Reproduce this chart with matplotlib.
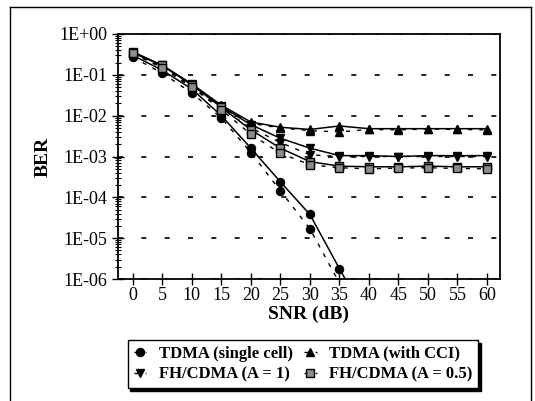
import numpy as np
import matplotlib.pyplot as plt
from matplotlib.lines import Line2D
from matplotlib.legend_handler import HandlerLine2D

plt.rcParams['font.family'] = ['Liberation Serif', 'DejaVu Serif']

snr = [0, 5, 10, 15, 20, 25, 30, 35, 40, 45, 50, 55, 60]
ytick_vals = [1e0, 1e-1, 1e-2, 1e-3, 1e-4, 1e-5, 1e-6]
ytick_labels = ['1E+00', '1E-01', '1E-02', '1E-03', '1E-04', '1E-05', '1E-06']

# TDMA (single cell) -- curve only down to ~40 dB, below the axis after that
snr_single = [0, 5, 10, 15, 20, 25, 30, 35, 40]
single_fit = [0.30, 0.13, 0.045, 0.010, 1.6e-3, 2.4e-4, 3.8e-5, 1.8e-6, 9e-8]
single_sim = [0.27, 0.11, 0.036, 0.0088, 1.25e-3, 1.45e-4, 1.7e-5, 8e-7, 4e-8]

cci_fit = [0.35, 0.17, 0.060, 0.018, 7.0e-3, 5.2e-3, 4.6e-3, 5.6e-3, 4.8e-3, 4.8e-3, 4.8e-3, 4.8e-3, 4.8e-3]
cci_sim = [0.33, 0.16, 0.055, 0.016, 6.5e-3, 5.0e-3, 4.3e-3, 4.0e-3, 4.6e-3, 4.5e-3, 4.7e-3, 4.6e-3, 4.5e-3]

fh1_fit = [0.35, 0.17, 0.058, 0.017, 6.0e-3, 2.8e-3, 1.6e-3, 1.05e-3, 1.05e-3, 1.0e-3, 1.05e-3, 1.05e-3, 1.05e-3]
fh1_sim = [0.33, 0.15, 0.050, 0.015, 5.0e-3, 2.2e-3, 1.1e-3, 1.0e-3, 1.0e-3, 1.0e-3, 1.0e-3, 1.0e-3, 1.0e-3]

fh05_fit = [0.37, 0.17, 0.057, 0.016, 4.5e-3, 1.6e-3, 7.5e-4, 5.8e-4, 5.6e-4, 5.6e-4, 5.8e-4, 5.6e-4, 5.6e-4]
fh05_sim = [0.34, 0.15, 0.050, 0.014, 3.5e-3, 1.2e-3, 6.3e-4, 5.3e-4, 5.0e-4, 5.2e-4, 5.3e-4, 5.1e-4, 5.0e-4]


class MarkerRight(HandlerLine2D):
    # short dash on the left, marker on the right, like "-▲"
    def get_xdata(self, legend, xdescent, ydescent, width, height, fontsize):
        return [-xdescent, -xdescent + 0.75 * width], [-xdescent + 0.85 * width]


fig = plt.figure(figsize=(5.35, 4.01), dpi=100)
ax = fig.add_axes([118 / 535, 1 - 279 / 401, 382 / 535, 245 / 401])

series = [
    (snr_single, single_fit, single_sim, 'o', 'black', 'TDMA (single cell)'),
    (snr, cci_fit, cci_sim, '^', 'black', 'TDMA (with CCI)'),
    (snr, fh1_fit, fh1_sim, 'v', 'black', 'FH/CDMA (A = 1)'),
    (snr, fh05_fit, fh05_sim, 's', '0.55', 'FH/CDMA (A = 0.5)'),
]

handles = []
for x, fit, sim, mk, fc, name in series:
    ax.plot(x, fit, color='black', lw=1.1, marker=mk, ms=5.8, mfc=fc, mec='black')
    h, = ax.plot(x, sim, color='black', lw=1.0, ls=(0, (3, 5)), marker=mk, ms=5.8,
                 mfc=fc, mec='black', label=name)
    handles.append(h)

ax.set_yscale('log')
ax.set_ylim(1e-6, 1e0)
ax.set_xlim(-2.5, 62.2)
ax.set_xticks(snr)
ax.set_yticks(ytick_vals)
ax.set_yticklabels(ytick_labels)
ax.tick_params(axis='both', which='major', direction='inout', length=8, width=1.0,
               labelsize=13, colors='black')
ax.tick_params(axis='y', which='minor', direction='inout', length=5, width=0.8)
ax.tick_params(axis='x', which='major', pad=2)
ax.yaxis.grid(True, which='major', color='black', lw=1.2, ls=(0, (3, 11)))
ax.set_axisbelow(True)
for s in ax.spines.values():
    s.set_linewidth(1.3)

ax.set_ylabel('BER', fontsize=14, fontweight='bold', labelpad=6)
ax.set_xlabel('SNR (dB)', fontsize=14, fontweight='bold', labelpad=1)

order = [0, 2, 1, 3]
leg = fig.legend([handles[i] for i in order], [handles[i].get_label() for i in order],
                 ncol=2, loc='center', bbox_to_anchor=(0.5664, 0.092),
                 prop={'weight': 'bold', 'size': 12}, handlelength=1.0,
                 handletextpad=0.5, columnspacing=0.7, labelspacing=0.3,
                 borderpad=0.35, fancybox=False, edgecolor='black',
                 shadow={'color': 'black', 'alpha': 1.0},
                 handler_map={Line2D: MarkerRight()})
leg.get_frame().set_linewidth(1.0)

# outer scan frame
fig.add_artist(Line2D([10 / 535, 10 / 535], [0, 1 - 7 / 401], color='black', lw=1.0, transform=fig.transFigure))
fig.add_artist(Line2D([10 / 535, 531 / 535], [1 - 7 / 401, 1 - 7 / 401], color='black', lw=1.0, transform=fig.transFigure))
fig.add_artist(Line2D([531 / 535, 531 / 535], [0, 1 - 7 / 401], color='black', lw=1.0, transform=fig.transFigure))

fig.savefig('out.png', dpi=100)
